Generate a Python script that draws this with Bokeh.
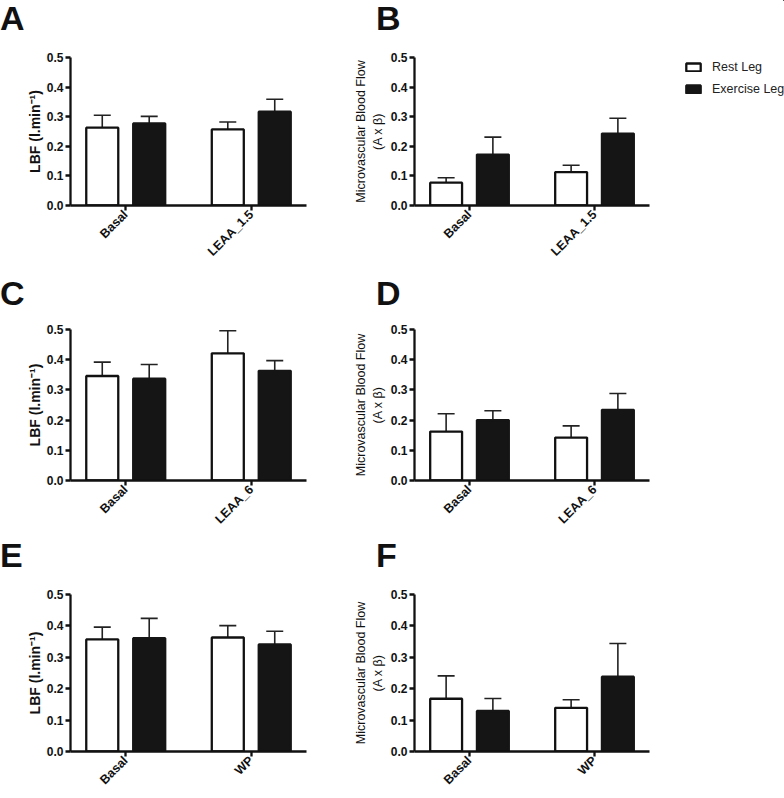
import math
from bokeh.plotting import figure
from bokeh.models import (Range1d, FixedTicker, PrintfTickFormatter, Whisker, TeeHead,
                          ColumnDataSource, Legend, LegendItem, Div)
from bokeh.layouts import row, column
from bokeh.embed import file_html
from bokeh.resources import INLINE

# ---------------- data ----------------
series = ["Rest Leg", "Exercise Leg"]
cats_ab = ["Basal", "LEAA_1.5"]
cats_cd = ["Basal", "LEAA_6"]
cats_ef = ["Basal", "WP"]

a_rest = [0.263, 0.257]; a_rest_err = [0.042, 0.025]
a_ex = [0.277, 0.317];   a_ex_err = [0.024, 0.042]

b_rest = [0.077, 0.113]; b_rest_err = [0.017, 0.023]
b_ex = [0.172, 0.243];   b_ex_err = [0.059, 0.052]

c_rest = [0.346, 0.421]; c_rest_err = [0.046, 0.075]
c_ex = [0.337, 0.363];   c_ex_err = [0.047, 0.034]

d_rest = [0.162, 0.142]; d_rest_err = [0.059, 0.039]
d_ex = [0.200, 0.234];   d_ex_err = [0.031, 0.054]

e_rest = [0.357, 0.363]; e_rest_err = [0.039, 0.038]
e_ex = [0.361, 0.341];   e_ex_err = [0.063, 0.042]

f_rest = [0.168, 0.139]; f_rest_err = [0.073, 0.026]
f_ex = [0.129, 0.238];   f_ex_err = [0.040, 0.106]

y_ticks = [0.0, 0.1, 0.2, 0.3, 0.4, 0.5]
lbf_label = "LBF (l.min\u207b\u00b9)"
mbf_label = "Microvascular Blood Flow\n(A x \u03b2)"
letters = [("A", "B"), ("C", "D"), ("E", "F")]

FONT = "Liberation Sans"
DARK = "#151515"
EDGE = "#111111"
BAR_W = 0.255
OFF = 0.187


def panel(cats, rest, rest_err, ex, ex_err, ylabel, width, height,
          bl, br, bt, bb, label_bold, label_size, label_standoff):
    p = figure(width=width, height=height, output_backend="svg", toolbar_location=None,
               x_range=Range1d(0.56, 2.44), y_range=Range1d(0, 0.5),
               min_border_left=bl, min_border_right=br, min_border_top=bt, min_border_bottom=bb)
    p.outline_line_color = None
    p.xgrid.visible = False
    p.ygrid.visible = False

    xs = [i + 1 for i in range(len(cats))]
    src_r = ColumnDataSource(dict(x=[x - OFF for x in xs], y=rest,
                                  up=[v + e for v, e in zip(rest, rest_err)]))
    src_e = ColumnDataSource(dict(x=[x + OFF for x in xs], y=ex,
                                  up=[v + e for v, e in zip(ex, ex_err)]))
    for src in (src_r, src_e):
        w = Whisker(base="x", lower="y", upper="up", source=src, line_color="#222222",
                    line_width=1.6, lower_head=None,
                    upper_head=TeeHead(size=17, line_color="#222222", line_width=1.6))
        p.add_layout(w)
    p.vbar(x="x", top="y", bottom=0, width=BAR_W, source=src_r,
           fill_color="white", line_color=EDGE, line_width=2.3)
    p.vbar(x="x", top="y", bottom=0, width=BAR_W, source=src_e,
           fill_color=DARK, line_color=DARK, line_width=2.3)

    p.yaxis.ticker = FixedTicker(ticks=y_ticks)
    p.yaxis.formatter = PrintfTickFormatter(format="%.1f")
    p.xaxis.ticker = FixedTicker(ticks=xs)
    p.xaxis.major_label_overrides = {x: c for x, c in zip(xs, cats)}
    p.xaxis.major_label_orientation = math.pi / 4
    for ax in (p.xaxis, p.yaxis):
        ax.axis_line_width = 2.3
        ax.axis_line_color = EDGE
        ax.major_tick_line_width = 2.3
        ax.major_tick_line_color = EDGE
        ax.major_tick_out = 5
        ax.major_tick_in = 0
        ax.minor_tick_line_color = None
        ax.major_label_text_font = FONT
        ax.major_label_text_font_style = "bold"
        ax.major_label_text_font_size = "12px"
        ax.major_label_text_color = EDGE
        ax.major_label_standoff = 2
    p.xaxis.major_label_text_font_size = "12.5px"
    p.yaxis.axis_label = ylabel
    p.yaxis.axis_label_text_font = FONT
    p.yaxis.axis_label_text_font_style = "bold" if label_bold else "normal"
    p.yaxis.axis_label_text_font_size = label_size
    p.yaxis.axis_label_text_color = EDGE
    p.yaxis.axis_label_standoff = label_standoff
    return p


def letter_div(txt, width, height, pad_left, pad_top):
    return Div(text=txt, width=width, height=height, margin=0,
               styles={"font-family": FONT, "font-size": "34px", "font-weight": "bold",
                       "line-height": "1", "color": "#111111",
                       "padding-left": f"{pad_left}px", "padding-top": f"{pad_top}px",
                       "box-sizing": "border-box"})


def legend_fig(width, height, rest, ex):
    # the legend sits in its own narrow canvas; its sample bars lie outside the visible ranges
    lf = figure(width=width, height=height, output_backend="svg", toolbar_location=None,
                x_range=Range1d(-30, -29), y_range=Range1d(-30, -29),
                x_axis_type=None, y_axis_type=None,
                min_border_left=0, min_border_right=0, min_border_top=0, min_border_bottom=0)
    lf.outline_line_color = None
    lf.xgrid.visible = False
    lf.ygrid.visible = False
    xs = [i + 1 for i in range(len(rest))]
    r1 = lf.vbar(x=xs, top=rest, width=BAR_W,
                 fill_color="white", line_color=EDGE, line_width=2.3)
    r2 = lf.vbar(x=xs, top=ex, width=BAR_W,
                 fill_color=DARK, line_color=DARK, line_width=2.3)
    lg = Legend(items=[LegendItem(label=series[0], renderers=[r1]),
                       LegendItem(label=series[1], renderers=[r2])],
                location=(25, height - 60 - 36), orientation="vertical")
    lg.border_line_color = None
    lg.background_fill_alpha = 0
    lg.margin = 0
    lg.padding = 0
    lg.glyph_width = 18
    lg.glyph_height = 10
    lg.label_height = 14
    lg.spacing = 8
    lg.label_standoff = 10
    lg.label_text_font = FONT
    lg.label_text_font_size = "12.5px"
    lg.label_text_color = "#222222"
    lf.add_layout(lg, "center")
    return lf


LW = 330
row_h = [266, 268, 262]
div_h = [36, 40, 36]
div_pad = [1, 10, 4]
fig_top = [21, 23, 24]
fig_bot = [53, 49, 45]

data = [
    (cats_ab, a_rest, a_rest_err, a_ex, a_ex_err, b_rest, b_rest_err, b_ex, b_ex_err),
    (cats_cd, c_rest, c_rest_err, c_ex, c_ex_err, d_rest, d_rest_err, d_ex, d_ex_err),
    (cats_ef, e_rest, e_rest_err, e_ex, e_ex_err, f_rest, f_rest_err, f_ex, f_ex_err),
]

rows = []
for i, d in enumerate(data):
    fh_ = row_h[i] - div_h[i]
    cats = d[0]
    pl = panel(cats, d[1], d[2], d[3], d[4], lbf_label, LW, fh_,
               70, 24, fig_top[i], fig_bot[i], True, "14px", 1)
    if i == 0:
        RW = 329
        pr = panel(cats, d[5], d[6], d[7], d[8], mbf_label, RW, fh_,
                   84, 10, fig_top[i], fig_bot[i], False, "12.5px", 3)
    else:
        RW = 454
        pr = panel(cats, d[5], d[6], d[7], d[8], mbf_label, RW, fh_,
                   84, 135, fig_top[i], fig_bot[i], False, "12.5px", 3)
    left_col = column(letter_div(letters[i][0], LW, div_h[i], 0, div_pad[i]), pl, spacing=0)
    right_col = column(letter_div(letters[i][1], RW, div_h[i], 46, div_pad[i]), pr, spacing=0)
    if i == 0:
        rows.append(row(left_col, right_col,
                        legend_fig(784 - LW - RW, row_h[0], d[5], d[7]), spacing=0))
    else:
        rows.append(row(left_col, right_col, spacing=0))

layout = column(*rows, spacing=0)

with open("out.html", "w") as fh:
    fh.write(file_html(layout, INLINE))
